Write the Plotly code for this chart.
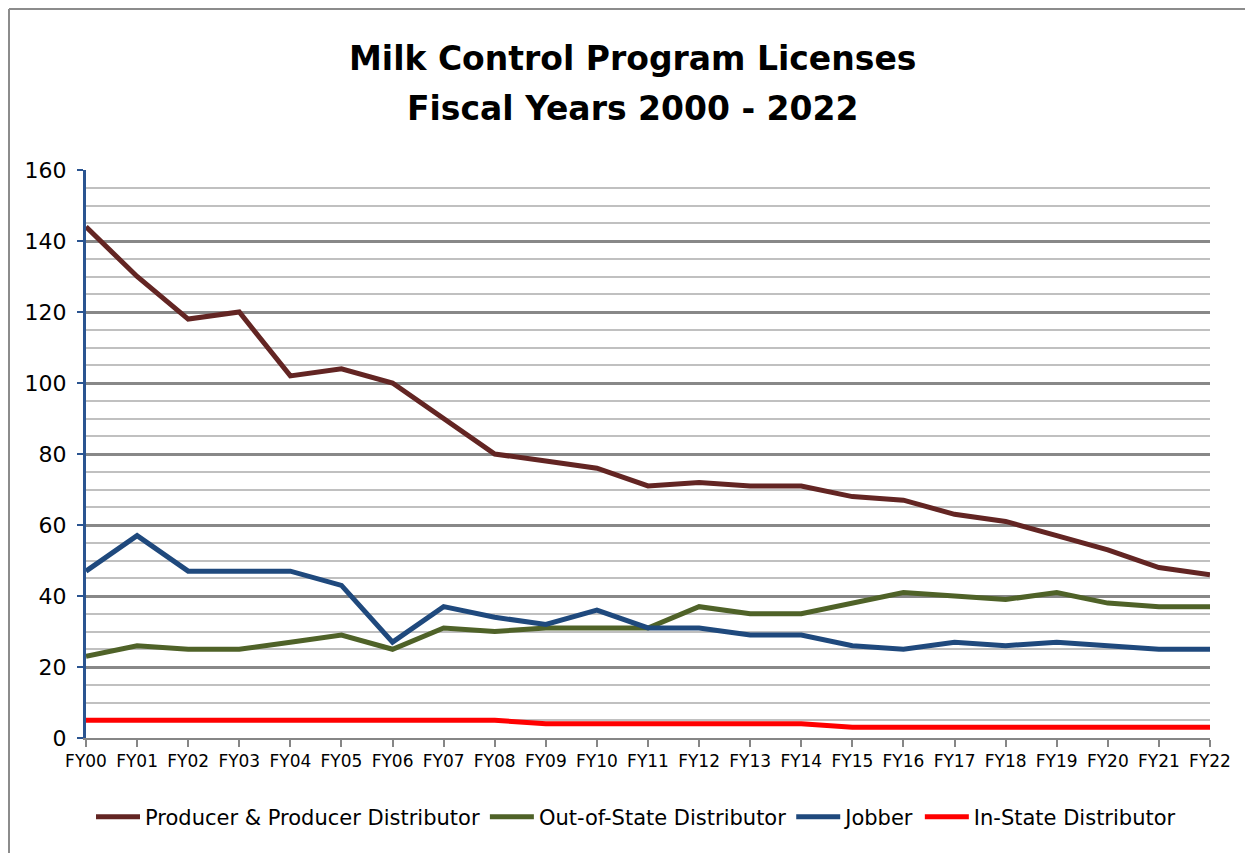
import plotly.graph_objects as go

categories = ["FY00", "FY01", "FY02", "FY03", "FY04", "FY05", "FY06", "FY07", "FY08", "FY09",
              "FY10", "FY11", "FY12", "FY13", "FY14", "FY15", "FY16", "FY17", "FY18", "FY19",
              "FY20", "FY21", "FY22"]
producer = [144, 130, 118, 120, 102, 104, 100, 90, 80, 78, 76, 71, 72, 71, 71, 68, 67, 63, 61, 57, 53, 48, 46]
out_of_state = [23, 26, 25, 25, 27, 29, 25, 31, 30, 31, 31, 31, 37, 35, 35, 38, 41, 40, 39, 41, 38, 37, 37]
jobber = [47, 57, 47, 47, 47, 43, 27, 37, 34, 32, 36, 31, 31, 29, 29, 26, 25, 27, 26, 27, 26, 25, 25]
in_state = [5, 5, 5, 5, 5, 5, 5, 5, 5, 4, 4, 4, 4, 4, 4, 3, 3, 3, 3, 3, 3, 3, 3]

series = [
    ("Producer & Producer Distributor", producer, "#632523"),
    ("Out-of-State Distributor", out_of_state, "#4F6228"),
    ("Jobber", jobber, "#1F497D"),
    ("In-State Distributor", in_state, "#FF0000"),
]

fig = go.Figure()
for name, vals, color in series:
    fig.add_trace(go.Scatter(x=categories, y=vals, name=name, mode="lines",
                             line=dict(color=color, width=5)))

# the page body adds an 8 px offset; figure coordinates below are page - 8
W, H = 1245, 845
L, T = 78, 162
R = W - 1202
B = H - 730
pw, ph = W - L - R, H - T - B

def px(x):
    return (x - L) / pw

def py(y):
    return (H - B - y) / ph

title_font = dict(family="DejaVu Sans", size=33, color="black")
border = dict(color="#8C8C8C", width=2)

fig.update_layout(
    width=W, height=H,
    margin=dict(l=L, r=R, t=T, b=B),
    paper_bgcolor="white", plot_bgcolor="white",
    font=dict(family="DejaVu Sans", color="black"),
    legend=dict(orientation="h", x=px(636 - 8), xanchor="center", y=py(809), yanchor="middle",
                font=dict(size=21, family="DejaVu Sans"), itemwidth=44, traceorder="normal"),
    annotations=[
        dict(text="<b>Milk Control Program Licenses</b>", xref="paper", yref="paper",
             x=px(632 - 8), y=py(58 - 8), xanchor="center", yanchor="middle",
             showarrow=False, font=title_font),
        dict(text="<b>Fiscal Years 2000 - 2022</b>", xref="paper", yref="paper",
             x=px(632 - 8), y=py(108 - 8), xanchor="center", yanchor="middle",
             showarrow=False, font=title_font),
    ],
    shapes=[
        dict(type="line", xref="paper", yref="paper", x0=px(1), x1=px(W + 20),
             y0=py(1), y1=py(1), line=border, layer="above"),
        dict(type="line", xref="paper", yref="paper", x0=px(1), x1=px(1),
             y0=py(1), y1=py(H + 20), line=border, layer="above"),
    ],
)

fig.update_xaxes(type="category", range=[0, 22], showline=True, linecolor="#868686", linewidth=2,
                 ticks="outside", ticklen=7, tickcolor="#868686", tickwidth=2,
                 showgrid=False, tickfont=dict(size=17, family="DejaVu Sans"))
fig.update_yaxes(range=[0, 160], dtick=20, showline=True, linecolor="#2A5490", linewidth=3,
                 ticks="outside", ticklen=6, tickcolor="#2A5490", tickwidth=2,
                 showgrid=True, gridcolor="#888888", gridwidth=3, zeroline=False,
                 minor=dict(dtick=5, showgrid=True, gridcolor="#C0C0C0", gridwidth=2),
                 tickfont=dict(size=22, family="DejaVu Sans"), ticklabelstandoff=6)

fig.write_html("out.html")
